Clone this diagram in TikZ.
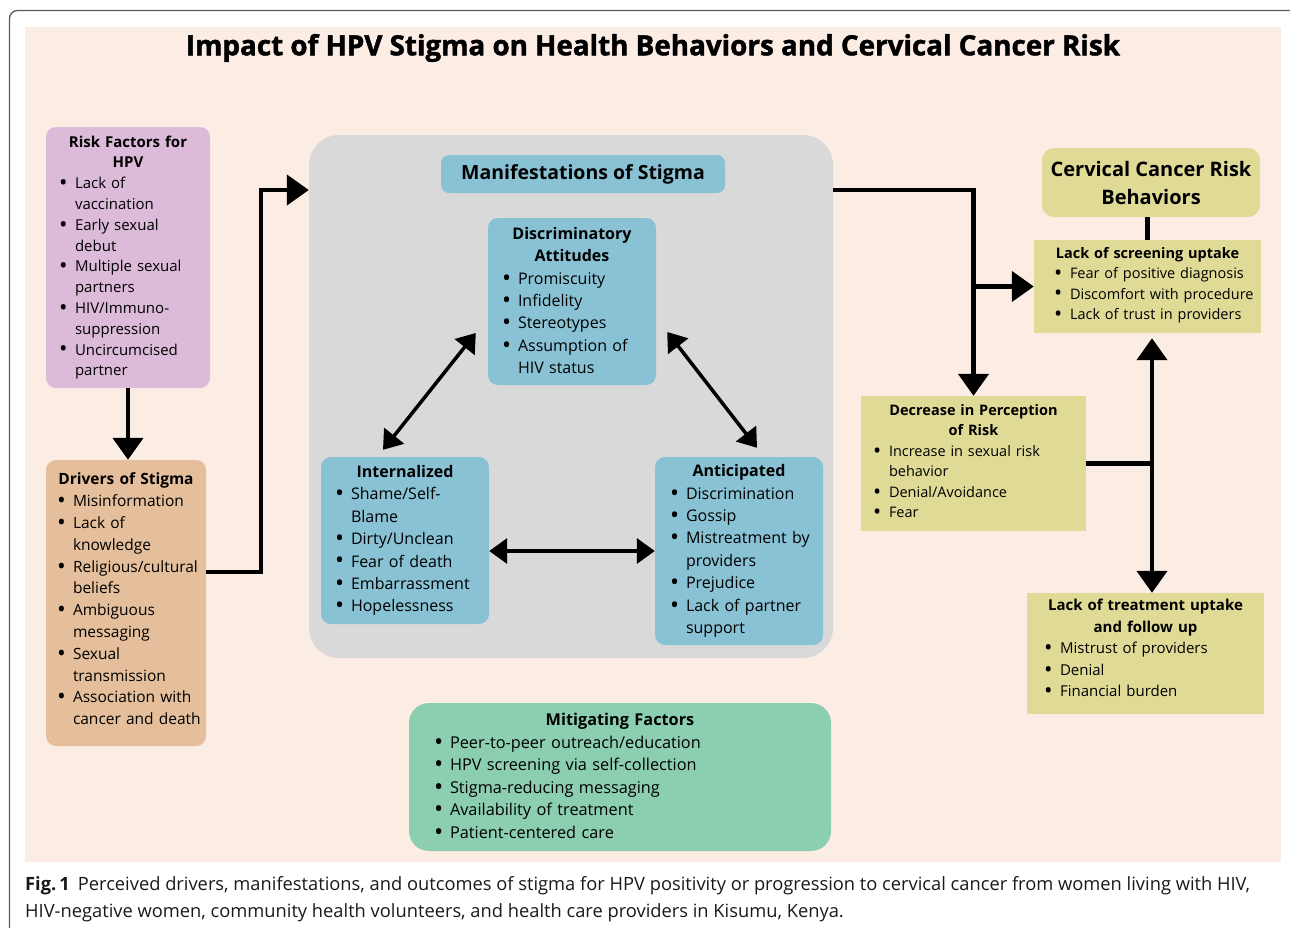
\documentclass[tikz,border=0pt]{standalone}
\usepackage{fontspec}
\usepackage{graphicx}
\setmainfont{Open Sans}
\newfontfamily\headfont[FakeBold=1.6]{Open Sans}
\usetikzlibrary{arrows.meta}

\definecolor{peach}{HTML}{FBEDE4}
\definecolor{riskpurple}{HTML}{DCBAD9}
\definecolor{drivertan}{HTML}{E5BF9B}
\definecolor{stigmagray}{HTML}{D9D9D9}
\definecolor{stigmablue}{HTML}{89C2D5}
\definecolor{mitigreen}{HTML}{8CCEB0}
\definecolor{riskolive}{HTML}{DFDB97}
\definecolor{framegray}{HTML}{5A5A5A}

\newlength{\bsep}\setlength{\bsep}{16pt}
\newcommand{\btitle}[1]{{\centering\bfseries\noindent #1\par}}
\newcommand{\bdot}{\raisebox{-0.12em}{\scalebox{1.5}{\textbullet}}}
\newcommand{\bitem}[1]{\par\noindent\makebox[\bsep][l]{\bdot}\mbox{#1}}
\newcommand{\bmore}[1]{\par\noindent\hspace*{\bsep}\mbox{#1}}

\begin{document}
\begin{tikzpicture}[x=1pt,y=-1pt,
    box/.style={inner ysep=0pt, align=left, rounded corners=10pt},
    sqbox/.style={inner ysep=0pt, align=left, fill=riskolive},
    conn/.style={line width=4.5pt, -{Triangle[width=30pt,length=22pt]}},
    both/.style={line width=4.5pt, {Triangle[width=30pt,length=22pt]}-{Triangle[width=30pt,length=22pt]}},
    dbl/.style={line width=3.5pt, {Triangle[width=25pt,length=18pt]}-{Triangle[width=25pt,length=18pt]}},
    plain/.style={line width=4.5pt}]
  \useasboundingbox (0,0) rectangle (1290,927);
  \begin{scope}
    \clip (0,0) rectangle (1290,927);
    \draw[framegray, line width=1.3pt, rounded corners=8pt] (9.5,10.5) rectangle (1310,950);
  \end{scope}
  \fill[peach] (25,27) rectangle (1281,862);

  \node[font=\fontsize{27.8}{30}\headfont\bfseries] (title) at (653,48)
    {Impact of HPV Stigma on Health Behaviors and Cervical Cancer Risk};

  \node[box, fill=riskpurple, inner xsep=13pt, text width=138pt, minimum height=261pt,
    font=\fontsize{15}{20.8}\selectfont] (risk) at (128,257.5)
    {\btitle{Risk Factors for\\HPV}\bitem{Lack of}\bmore{vaccination}\bitem{Early sexual}\bmore{debut}%
     \bitem{Multiple sexual}\bmore{partners}\bitem{HIV/Immuno-}\bmore{suppression}%
     \bitem{Uncircumcised}\bmore{partner}};
  \node[box, fill=drivertan, inner xsep=11pt, text width=138pt, minimum height=286pt,
    font=\fontsize{15.5}{21.8}\selectfont] (drivers) at (126,603)
    {\btitle{Drivers of Stigma}\bitem{Misinformation}\bitem{Lack of}\bmore{knowledge}%
     \bitem{Religious/cultural}\bmore{beliefs}\bitem{Ambiguous}\bmore{messaging}%
     \bitem{Sexual}\bmore{transmission}\bitem{Association with}\bmore{cancer and death}\par\kern8pt};

  \node[fill=stigmagray, rounded corners=30pt, minimum width=524pt, minimum height=523pt] (stigma) at (571,396.5) {};
  \node[fill=stigmablue, rounded corners=8pt, minimum width=284pt, minimum height=38pt,
    font=\fontsize{19.5}{23}\selectfont\bfseries] (manif) at (583,174) {Manifestations of Stigma};
  \node[box, fill=stigmablue, inner xsep=14pt, text width=140pt, minimum height=167pt,
    font=\fontsize{16}{22.3}\selectfont] (disc) at (572,301.5)
    {\btitle{Discriminatory\\Attitudes}\bitem{Promiscuity}\bitem{Infidelity}\bitem{Stereotypes}%
     \bitem{Assumption of}\bmore{HIV status}\par\kern2pt};
  \node[box, fill=stigmablue, inner xsep=14pt, text width=140pt, minimum height=167pt,
    font=\fontsize{16}{22.4}\selectfont] (intern) at (405,540.5)
    {\btitle{Internalized}\bitem{Shame/Self-}\bmore{Blame}\bitem{Dirty/Unclean}%
     \bitem{Fear of death}\bitem{Embarrassment}\bitem{Hopelessness}};
  \node[box, fill=stigmablue, inner xsep=15pt, text width=138pt, minimum height=188pt,
    font=\fontsize{16}{22.4}\selectfont] (antic) at (739,551)
    {\btitle{Anticipated}\bitem{Discrimination}\bitem{Gossip}\bitem{Mistreatment by}\bmore{providers}%
     \bitem{Prejudice}\bitem{Lack of partner}\bmore{support}};

  \node[box, fill=mitigreen, rounded corners=20pt, inner xsep=25pt, text width=372pt, minimum height=148pt,
    font=\fontsize{16.3}{22.5}\selectfont] (mitig) at (620,777)
    {\btitle{Mitigating Factors}\bitem{Peer-to-peer outreach/education}\bitem{HPV screening via self-collection}%
     \bitem{Stigma-reducing messaging}\bitem{Availability of treatment}\bitem{Patient-centered care}};

  \node[fill=riskolive, rounded corners=12pt, align=center, minimum width=218pt, minimum height=69pt,
    font=\fontsize{20}{28}\selectfont\bfseries] (ccrb) at (1151,182.5)
    {Cervical Cancer Risk\\Behaviors};
  \node[sqbox, inner xsep=20pt, text width=187pt, minimum height=93pt,
    font=\fontsize{14.5}{20.5}\selectfont] (screen) at (1147.5,286.5)
    {\btitle{Lack of screening uptake}\bitem{Fear of positive diagnosis}\bitem{Discomfort with procedure}%
     \bitem{Lack of trust in providers}\par\kern3pt};
  \node[sqbox, inner xsep=12pt, text width=201pt, minimum height=135pt,
    font=\fontsize{14.5}{20.5}\selectfont] (decr) at (973.5,463.5)
    {\btitle{Decrease in Perception\\of Risk}\bitem{Increase in sexual risk}\bmore{behavior}%
     \bitem{Denial/Avoidance}\bitem{Fear}\par\kern3pt};
  \node[sqbox, inner xsep=17pt, text width=203pt, minimum height=121pt,
    font=\fontsize{15}{21.5}\selectfont] (treat) at (1145.5,653.5)
    {\btitle{Lack of treatment uptake\\and follow up}\bitem{Mistrust of providers}\bitem{Denial}%
     \bitem{Financial burden}\par\kern9pt};

  \node[anchor=north west, inner sep=0pt, align=left, text=black!90,
    font=\fontsize{18.3}{27}\selectfont] (caption) at (25,876)
    {\textbf{Fig.\,1}\hspace{8pt}Perceived drivers, manifestations, and outcomes of stigma for HPV positivity or progression to cervical cancer from women living with HIV,\\
     HIV-negative women, community health volunteers, and health care providers in Kisumu, Kenya.};

  \coordinate (lvl1) at (0,190);
  \coordinate (vline) at (1152,0);
  \draw[conn] (risk.south) -- (risk.south |- drivers.north);
  \draw[conn] ([yshift=31pt]drivers.east) -- ++(55,0) |- (stigma.west |- lvl1);
  \draw[conn] (stigma.east |- lvl1) -| (decr.north);
  \draw[conn] (decr.north |- screen.west) -- (screen.west);
  \draw[plain] (ccrb.south -| screen.north) -- (screen.north);
  \draw[both, shorten <=5pt] (vline |- screen.south) -- (vline |- treat.north);
  \draw[plain] (decr.east) -- (decr.east -| vline);
  \draw[dbl] ([shift={(-12,31.5)}]disc.west) -- ([shift={(-22,-7)}]intern.north);
  \draw[dbl] ([shift={(11,30.5)}]disc.east) -- ([shift={(18,-9)}]antic.north);
  \draw[dbl] (intern.east |- antic.west) -- (antic.west);
\end{tikzpicture}
\end{document}
